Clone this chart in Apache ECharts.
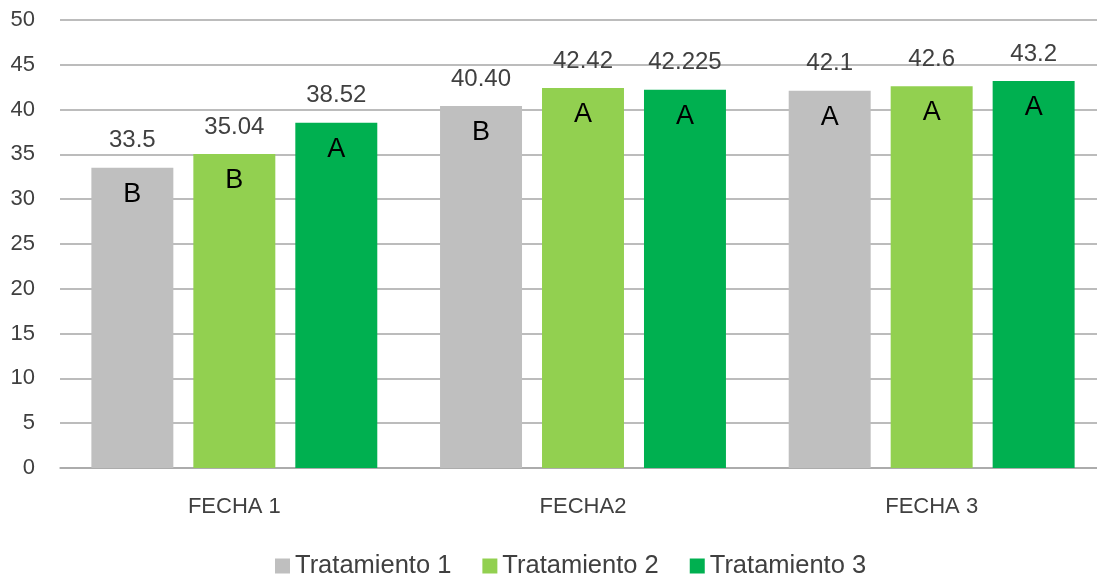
<!DOCTYPE html>
<html>
<head>
<meta charset="utf-8">
<script src="https://cdn.jsdelivr.net/npm/echarts@6/dist/echarts.min.js"></script>
<style>
  html, body { margin: 0; padding: 0; background: #fff; overflow: hidden; }
  #main { width: 1108px; height: 576px; }
</style>
</head>
<body>
<div id="main"></div>
<script>
// datos
var categorias = ['FECHA 1', 'FECHA2', 'FECHA 3'];
var tratamientos = ['Tratamiento 1', 'Tratamiento 2', 'Tratamiento 3'];
var t1 = [33.5, 40.40, 42.1];
var t2 = [35.04, 42.42, 42.6];
var t3 = [38.52, 42.225, 43.2];
// etiquetas tal como aparecen
var t1Txt = ['33.5', '40.40', '42.1'];
var t2Txt = ['35.04', '42.42', '42.6'];
var t3Txt = ['38.52', '42.225', '43.2'];
// letras de significancia
var t1Letra = ['B', 'B', 'A'];
var t2Letra = ['B', 'A', 'A'];
var t3Letra = ['A', 'A', 'A'];
var colores = ['#BFBFBF', '#92D050', '#00B050'];

var valores = [t1, t2, t3];
var textos = [t1Txt, t2Txt, t3Txt];
var letras = [t1Letra, t2Letra, t3Letra];

var series = [];
for (var i = 0; i < 3; i++) {
  (function (i) {
    // barra con el valor encima
    series.push({
      name: tratamientos[i],
      type: 'bar',
      stack: 's' + i,
      data: valores[i],
      itemStyle: { color: colores[i] },
      label: {
        show: true,
        position: 'top',
        distance: 15,
        fontSize: 24,
        fontFamily: 'Liberation Sans',
        color: '#404040',
        formatter: function (p) { return textos[i][p.dataIndex]; }
      }
    });
    // barra de altura cero solo para la letra
    series.push({
      name: tratamientos[i] + ' letra',
      type: 'bar',
      stack: 's' + i,
      silent: true,
      data: [0, 0, 0],
      itemStyle: { color: 'transparent' },
      label: {
        show: true,
        position: 'insideTop',
        distance: 13,
        fontSize: 27,
        fontFamily: 'Liberation Sans',
        color: '#000',
        formatter: function (p) { return letras[i][p.dataIndex]; }
      }
    });
  })(i);
}
// barGap / barCategoryGap en la primera serie
series[0].barGap = '24.4%';
series[0].barCategoryGap = '18%';

var myChart = echarts.init(document.getElementById('main'));
var option = {
  animation: false,
  // el área de trazado sigue un poco más allá del borde visible
  grid: { left: 60, right: 2, top: 20, bottom: 108 },
  legend: {
    data: tratamientos,
    top: 548,
    left: 270,
    icon: 'rect',
    itemWidth: 15,
    itemHeight: 15,
    itemGap: 31,
    textStyle: { fontSize: 25.5, fontFamily: 'Liberation Sans', color: '#404040' }
  },
  xAxis: {
    type: 'category',
    data: categorias,
    axisTick: { show: false },
    axisLine: { lineStyle: { color: '#A6A6A6', width: 1.5 } },
    axisLabel: { fontSize: 22, fontFamily: 'Liberation Sans', color: '#404040', margin: 28 }
  },
  yAxis: {
    type: 'value',
    min: 0,
    max: 50,
    interval: 5,
    axisLine: { show: false },
    axisTick: { show: false },
    splitLine: { lineStyle: { color: '#A6A6A6', width: 1.5 } },
    axisLabel: { fontSize: 22, fontFamily: 'Liberation Sans', color: '#404040', margin: 25 }
  },
  series: series
};
myChart.setOption(option);
</script>
</body>
</html>
